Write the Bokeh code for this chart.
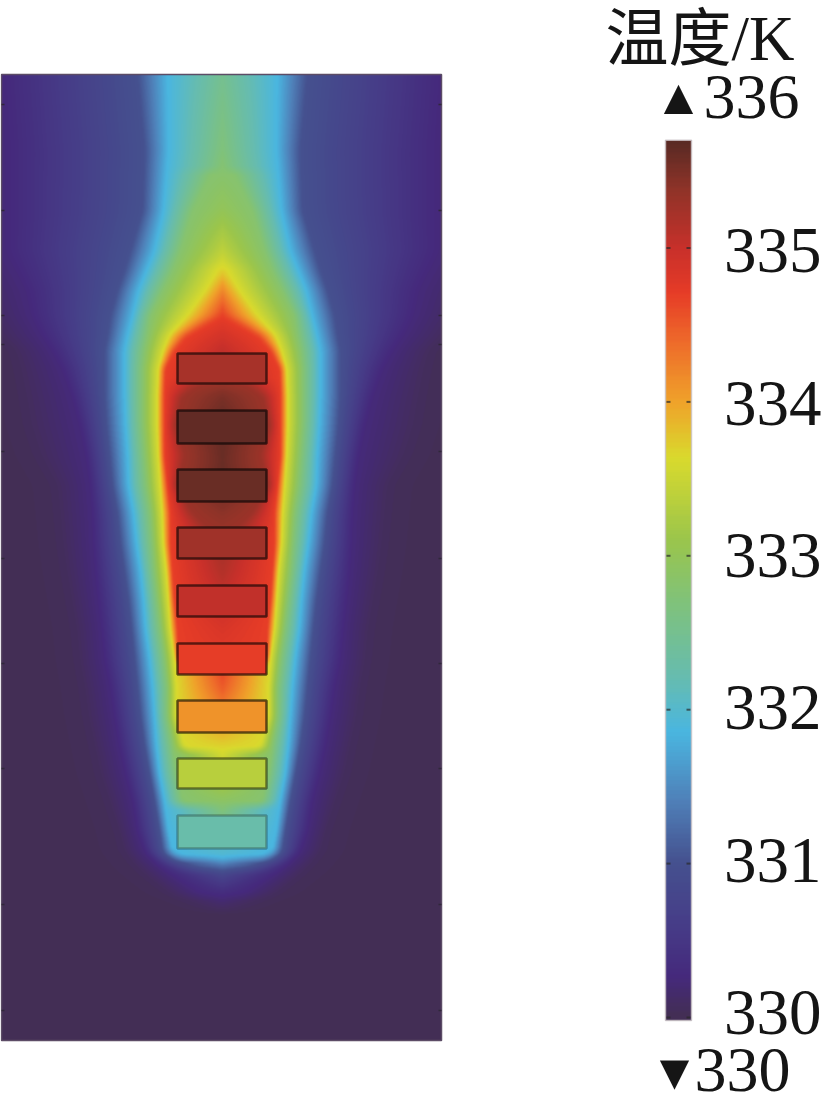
import numpy as np
from bokeh.core.properties import value
from bokeh.embed import file_html
from bokeh.models import LinearColorMapper, Range1d
from bokeh.plotting import figure
from bokeh.resources import INLINE

# colour scale
scale_T = [330.0, 330.25, 330.6, 331.0, 331.4, 331.85, 332.2, 332.7, 333.1, 333.64, 334.0, 334.4, 334.72, 335.0, 335.4, 335.7]
scale_rgb = ["#432e55", "#45297c", "#463d88", "#45518f", "#4f80b8", "#4ab6e0", "#66bcb0", "#80c27a", "#9ac54c",
             "#d9da2d", "#efa32a", "#ee6a2a", "#e63c27", "#c9302a", "#8e3328", "#5a2a24"]

# isotherm half widths (picture px from the axis) at key depths (picture y)
level_T = [330.05, 330.25, 331.0, 331.85, 332.8, 333.64, 334.7, 335.3]
key_y = [74, 150, 210, 250, 270, 290, 315, 335, 350, 368, 395, 425, 455, 485, 513, 543, 571, 600, 628, 658, 687, 716, 745, 773, 800, 830, 850, 857, 863, 875, 893, 905, 915, 1040]
axis_T = [332.5, 332.7, 333.0, 333.4, 333.7, 334.2, 334.7, 334.9, 335.05, 335.1, 335.5, 335.65, 335.6, 335.6, 335.4, 335.25, 335.15, 335.0, 334.85, 334.75, 334.5, 334.15, 333.7, 333.35, 332.9, 332.3, 332.0, 331.9, 331.4, 330.75, 330.3, 330.12, 330.0, 330.0]
hw_a = [300, 300, 295, 290, 270, 255, 240, 225, 210, 205, 200, 195, 185, 168, 165, 162, 158, 153, 148, 145, 140, 136, 130, 124, 115, 105, 100, 95, 90, 78, 55, 25, 0, 0]
hw_b = [220, 215, 215, 215, 205, 195, 190, 180, 170, 160, 150, 142, 136, 132, 130, 129, 127, 124, 121, 118, 112, 108, 103, 97, 90, 85, 78, 72, 66, 50, 22, 0, 0, 0]
hw_c = [85, 78, 80, 92, 98, 105, 112, 115, 118, 118, 118, 116, 113, 110, 105, 102, 98, 94, 91, 88, 85, 82, 78, 73, 68, 63, 60, 54, 40, 0, 0, 0, 0, 0]
hw_d = [55, 54, 59, 68, 76, 84, 90, 95, 98, 98, 98, 97, 95, 94, 89, 86, 82, 79, 77, 73, 70, 68, 66, 63, 58, 54, 50, 38, 0, 0, 0, 0, 0, 0]
hw_e = [0, 0, 30, 42, 50, 60, 72, 75, 78, 80, 80, 80, 78, 76, 72, 70, 68, 65, 62, 58, 55, 55, 50, 46, 40, 0, 0, 0, 0, 0, 0, 0, 0, 0]
hw_f = [0, 0, 0, 0, 5, 17, 35, 53, 59, 64, 65, 65, 64, 62, 60, 59, 56, 54, 52, 48, 46, 46, 38, 0, 0, 0, 0, 0, 0, 0, 0, 0, 0, 0]
hw_g = [0, 0, 0, 0, 0, 0, 0, 35, 48, 57, 58, 58, 58, 55, 52, 52, 50, 48, 45, 44, 0, 0, 0, 0, 0, 0, 0, 0, 0, 0, 0, 0, 0, 0]
hw_h = [0, 0, 0, 0, 0, 0, 0, 0, 0, 0, 40, 47, 38, 46, 30, 0, 0, 0, 0, 0, 0, 0, 0, 0, 0, 0, 0, 0, 0, 0, 0, 0, 0, 0]

# heaters (picture y) and their temperatures
heater_top = [353, 410, 469, 527, 585, 643, 700, 758, 815]
heater_bottom = [383, 443, 501, 558, 616, 674, 732, 788, 848]
heater_T = [335.22, 335.66, 335.62, 335.28, 335.05, 334.72, 334.12, 333.36, 332.25]
field_ticks = [104, 210, 315, 344, 451, 558, 663, 768, 904, 1010]

bar_ticks = [335, 334, 333, 332, 331, 330]
bar_labels = ["335", "334", "333", "332", "331", "330"]
bar_label_baseline = [275, 428, 580, 732, 885, 1037]
bar_min, bar_max = 329.98, 335.70

FRAME_TOP, FRAME_BOTTOM, FRAME_LEFT, FRAME_RIGHT = 74, 1040, 1, 441
AXIS_X = 222
W, HH = 823, 1116
PX_PER_K = 153.9
Y330 = 1017


def hex2rgb(h):
    return [int(h[i:i + 2], 16) for i in (1, 3, 5)]


rgb = np.array([hex2rgb(c) for c in scale_rgb], float)
tt = np.linspace(scale_T[0], scale_T[-1], 256)
palette = ["#%02x%02x%02x" % tuple(int(round(np.interp(t, scale_T, rgb[:, k]))) for k in range(3)) for t in tt]
mapper = LinearColorMapper(palette=palette, low=scale_T[0], high=scale_T[-1])

# temperature field from the isotherm table
columns = np.array([hw_a, hw_b, hw_c, hw_d, hw_e, hw_f, hw_g, hw_h], float)
ys = np.arange(FRAME_TOP, FRAME_BOTTOM) + 0.5
xs = np.arange(FRAME_LEFT, FRAME_RIGHT) + 0.5 - AXIS_X
field = np.zeros((len(ys), len(xs)), dtype=np.float32)
for i, y in enumerate(ys):
    tc = np.interp(y, key_y, axis_T)
    hw = [np.interp(y, key_y, c) for c in columns]
    pts = sorted((w, t) for w, t in zip(hw, level_T) if w > 0.5 and t < tc)
    px = [0.0] + [p[0] for p in pts] + [(pts[-1][0] if pts else 0.0) + 40.0]
    pt = [tc] + [p[1] for p in pts] + [scale_T[0]]
    field[i] = np.interp(np.abs(xs), px, pt)


def soften(a, size, axis):
    # the reference picture is slightly blurred
    pad = size // 2
    widths = [(0, 0), (0, 0)]
    widths[axis] = (pad, pad)
    padded = np.pad(a, widths, mode="edge")
    kernel = np.ones(size) / size
    return np.apply_along_axis(lambda v: np.convolve(v, kernel, mode="valid"), axis, padded)


field = soften(soften(field, 9, 0), 3, 1).astype(np.float32)[::-1]  # image rows run upward

Y = lambda py: HH - py  # default y range measures up from the page foot
V = lambda py: 330 + (Y330 - py) / PX_PER_K  # temperature scale of the colour bar

p = figure(width=W, height=HH, output_backend="svg", toolbar_location=None,
           x_range=Range1d(0, W), y_range=Range1d(0, HH),
           x_axis_type=None, y_axis_type=None, min_border=0, outline_line_color=None)
p.extra_y_ranges = {"kelvin": Range1d(V(HH), V(0))}
p.grid.visible = False

p.image(image=[field], x=FRAME_LEFT, y=Y(FRAME_BOTTOM), dw=FRAME_RIGHT - FRAME_LEFT,
        dh=FRAME_BOTTOM - FRAME_TOP, color_mapper=mapper)
p.quad(left=[FRAME_LEFT], right=[FRAME_RIGHT], top=[Y(FRAME_TOP)], bottom=[Y(FRAME_BOTTOM)],
       fill_color=None, line_color="#5c4c66", line_width=1.5)

n = len(field_ticks)
ty = [Y(v) for v in field_ticks]
p.segment(x0=[FRAME_LEFT] * n, x1=[FRAME_LEFT + 3] * n, y0=ty, y1=ty, line_color="#30283a", line_width=1.5)
p.segment(x0=[FRAME_RIGHT - 3] * n, x1=[FRAME_RIGHT] * n, y0=ty, y1=ty, line_color="#30283a", line_width=1.5)

m = len(heater_T)
fills = [palette[int(round((t - scale_T[0]) / (scale_T[-1] - scale_T[0]) * 255))] for t in heater_T]
alphas = [0.6] * 7 + [0.45, 0.25]
p.quad(left=[AXIS_X - 45] * m, right=[AXIS_X + 44] * m, top=[Y(v) for v in heater_top],
       bottom=[Y(v) for v in heater_bottom], fill_color=fills, line_color="#000000",
       line_alpha=alphas, line_width=2.5)

# colour bar on the kelvin scale
bar = np.linspace(bar_min, bar_max, 440).reshape(-1, 1).astype(np.float32)
p.image(image=[bar], x=665, y=bar_min, dw=26, dh=bar_max - bar_min, color_mapper=mapper, y_range_name="kelvin")
p.quad(left=[665], right=[691], top=[bar_max], bottom=[bar_min], fill_color=None, line_color="#c8c0c4",
       line_alpha=0.8, line_width=1.5, y_range_name="kelvin")
k = len(bar_ticks)
p.segment(x0=[666] * k, x1=[670] * k, y0=bar_ticks, y1=bar_ticks, line_color="#2a2a2a", line_alpha=0.7,
          line_width=2, y_range_name="kelvin")
p.segment(x0=[686] * k, x1=[690] * k, y0=bar_ticks, y1=bar_ticks, line_color="#2a2a2a", line_alpha=0.7,
          line_width=2, y_range_name="kelvin")

SERIF = value("Liberation Serif")
INK = "#151515"
p.text(x=[821] * k, y=[Y(b) for b in bar_label_baseline], y_offset=-25, text=bar_labels, text_font=SERIF,
       text_font_size="65px", text_align="right", text_baseline="alphabetic", text_color=INK)
p.text(x=[799], y=[Y(121)], y_offset=-25, text=["336"], text_font=SERIF, text_font_size="64px",
       text_align="right", text_baseline="alphabetic", text_color=INK)
p.text(x=[678], y=[Y(113)], y_offset=-17, text=["▲"], text_font=SERIF, text_font_size="50px",
       text_align="center", text_baseline="alphabetic", text_color=INK)
p.text(x=[790], y=[Y(1094)], y_offset=-25, text=["330"], text_font=SERIF, text_font_size="64px",
       text_align="right", text_baseline="alphabetic", text_color=INK)
p.text(x=[674], y=[Y(1088)], y_offset=-17, text=["▼"], text_font=SERIF, text_font_size="50px",
       text_align="center", text_baseline="alphabetic", text_color=INK)
p.text(x=[605], y=[Y(59)], y_offset=-21, text=["温度/K"], text_font=value("Liberation Serif, Noto Sans CJK SC"),
       text_font_size="63px", text_align="left", text_baseline="alphabetic", text_color=INK)

open("out.html", "w").write(file_html(p, INLINE))
